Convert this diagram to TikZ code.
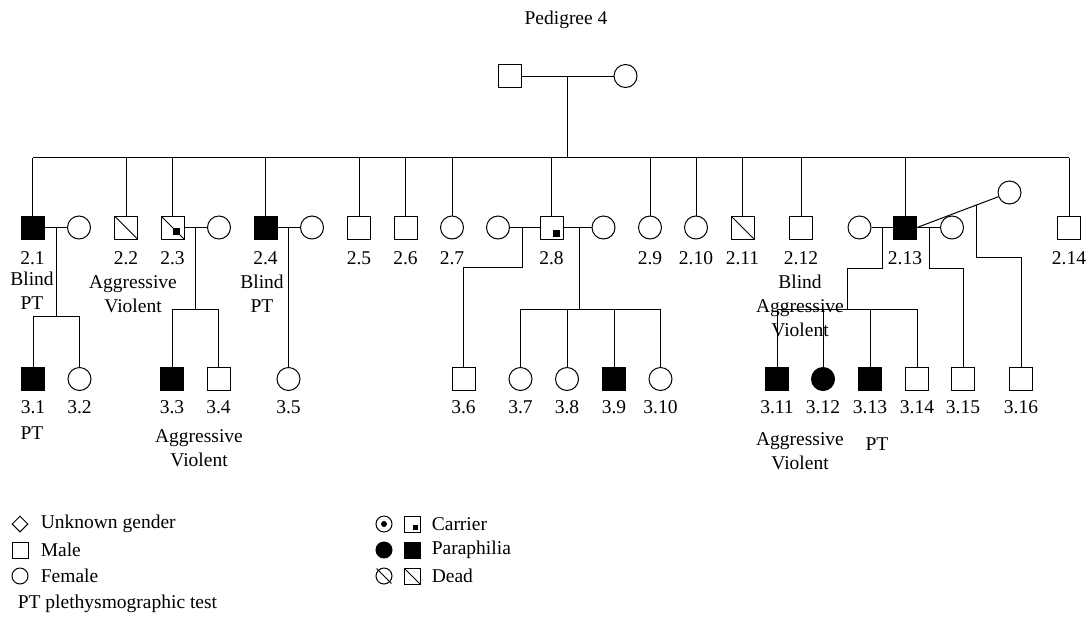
\documentclass[tikz,border=0pt]{standalone}
\usepackage{fontspec}
\setmainfont{Liberation Serif}
\usetikzlibrary{shapes.geometric}

\begin{document}
\begin{tikzpicture}[x=1pt,y=-1pt,line width=1pt,font=\fontsize{19.5}{24}\selectfont]
    \tikzstyle{male}=[rectangle,draw=black,fill=white,minimum size=23pt,inner sep=0pt]
    \tikzstyle{female}=[circle,draw=black,fill=white,minimum size=23pt,inner sep=0pt]
    \tikzstyle{malep}=[male,fill=black]
    \tikzstyle{femalep}=[female,fill=black]
    \tikzstyle{maled}=[male,path picture={\draw[black] (path picture bounding box.north west) -- (path picture bounding box.south east);}]
    \tikzstyle{malec}=[male,path picture={\fill[black] ([xshift=1pt,yshift=-9.5pt]path picture bounding box.center) rectangle ++(7pt,7pt);}]
    \tikzstyle{maledc}=[male,path picture={\draw[black] (path picture bounding box.north west) -- (path picture bounding box.south east);
        \fill[black] ([xshift=0pt,yshift=-7.5pt]path picture bounding box.center) rectangle ++(7pt,7pt);}]
    \tikzstyle{key}=[minimum size=16pt]
    \useasboundingbox (0,0) rectangle (1092,619);

    \node (title) at (566,20) {Pedigree 4};

    % generation 1
    \node[male] (V-1-1) at (509.5,76) {};
    \node[female] (V-1-2) at (625.5,76) {};
    \draw (V-1-1) -- (V-1-2);
    \coordinate (M-1) at (567,76);
    \coordinate (S-2) at (567,157.5);
    \draw (M-1) -- (S-2);

    % generation 2
    \foreach \num/\x/\kind in {1/32.5/malep, 2/126/maled, 3/172.5/maledc, 4/265.5/malep,
            5/359/male, 6/405.5/male, 7/452/female, 8/551.5/malec, 9/650/female,
            10/696/female, 11/742.5/maled, 12/801/male, 13/905/malep, 14/1069/male}
    {
        \node[\kind] (V-2-\num) at (\x,227.5) {};
        \node (N-2-\num) at (\x,258) {2.\num};
    }
    \foreach \name/\x in {1/79, 3/219, 4/312, 8a/498, 8b/603.5, 13a/859.5, 13b/952}
        \node[female] (W-2-\name) at (\x,227.5) {};
    \node[female] (W-2-13c) at (1009.5,192.5) {};

    \draw (V-2-1 |- S-2) -- (V-2-14 |- S-2);
    \foreach \num in {1,...,14}
        \draw (V-2-\num) -- (V-2-\num |- S-2);

    \node[align=center] (T-2-1) at (32,291) {Blind\\PT};
    \node[align=center] (T-2-2) at (133,294.5) {Aggressive\\Violent};
    \node[align=center] (T-2-4) at (262,294) {Blind\\PT};

    % generation 3
    \foreach \num/\x/\kind in {1/33/malep, 2/79.5/female, 3/172/malep, 4/218.5/male,
            5/288.5/female, 6/463.5/male, 7/520.5/female, 8/567/female, 9/614/malep,
            10/660.5/female, 11/777/malep, 12/823/femalep, 13/870/malep, 14/917/male,
            15/963/male, 16/1021/male}
    {
        \node[\kind] (V-3-\num) at (\x,379) {};
        \node (N-3-\num) at (\x,407) {3.\num};
    }

    % 2.1
    \draw (V-2-1) -- (W-2-1);
    \coordinate (M-2-1) at (56,227.5);
    \coordinate (S-3-1) at (56,316);
    \draw (M-2-1) -- (S-3-1);
    \draw (V-3-1 |- S-3-1) -- (V-3-2 |- S-3-1);
    \foreach \num in {1,2}
        \draw (V-3-\num) -- (V-3-\num |- S-3-1);

    % 2.3
    \draw (V-2-3) -- (W-2-3);
    \coordinate (M-2-3) at (195.7,227.5);
    \coordinate (S-3-3) at (195.7,309);
    \draw (M-2-3) -- (S-3-3);
    \draw (V-3-3 |- S-3-3) -- (V-3-4 |- S-3-3);
    \foreach \num in {3,4}
        \draw (V-3-\num) -- (V-3-\num |- S-3-3);

    % 2.4
    \draw (V-2-4) -- (W-2-4);
    \coordinate (M-2-4) at (288.5,227.5);
    \draw (M-2-4) -- (V-3-5);

    % 2.8
    \draw (W-2-8a) -- (V-2-8) -- (W-2-8b);
    \coordinate (M-2-8a) at (522,227.5);
    \coordinate (K-2-8a) at (522,267.7);
    \draw (M-2-8a) -- (K-2-8a) -| (V-3-6);
    \coordinate (M-2-8b) at (579,227.5);
    \coordinate (S-3-7) at (579,309);
    \draw (M-2-8b) -- (S-3-7);
    \draw (V-3-7 |- S-3-7) -- (V-3-10 |- S-3-7);
    \foreach \num in {7,...,10}
        \draw (V-3-\num) -- (V-3-\num |- S-3-7);

    % 2.13
    \draw (W-2-13a) -- (V-2-13) -- (W-2-13b);
    \draw (V-2-13.east) -- (W-2-13c);
    \coordinate (M-2-13a) at (882,227.5);
    \coordinate (K-2-13a) at (882,268);
    \coordinate (S-3-11) at (847,309);
    \draw (M-2-13a) -- (K-2-13a) -| (S-3-11);
    \draw (V-3-11 |- S-3-11) -- (V-3-14 |- S-3-11);
    \foreach \num in {11,...,14}
        \draw (V-3-\num) -- (V-3-\num |- S-3-11);
    \coordinate (M-2-13b) at (929,227.5);
    \coordinate (K-2-13b) at (929,268);
    \draw (M-2-13b) -- (K-2-13b) -| (V-3-15);
    \coordinate (M-2-13c) at (976,205.1);
    \coordinate (K-2-13c) at (976,257);
    \draw (M-2-13c) -- (K-2-13c) -| (V-3-16);

    \node[align=center] (T-2-12) at (800,305.5) {Blind\\Aggressive\\Violent};
    \node (T-3-1) at (32,433) {PT};
    \node[align=center] (T-3-3) at (199,448) {Aggressive\\Violent};
    \node[align=center] (T-3-11) at (800,451) {Aggressive\\Violent};
    \node (T-3-13) at (877,444) {PT};

    % legend
    \node[diamond,draw,key,inner sep=0pt] (K-u) at (20,524) {};
    \node[male,key] (K-m) at (20,550) {};
    \node[female,key] (K-f) at (20,576) {};
    \node[anchor=west] (K-ut) at (37,524) {Unknown gender};
    \node[anchor=west] (K-mt) at (37,550) {Male};
    \node[anchor=west] (K-ft) at (37,576) {Female};
    \node[anchor=west] (K-pt) at (14,604) {PT plethysmographic test};

    \node[female,key] (K-cf) at (384,524) {};
    \fill (K-cf) circle (3pt);
    \node[male,key] (K-cm) at (412,524) {};
    \fill ([xshift=1pt,yshift=-6pt]K-cm.center) rectangle ++(5pt,5pt);
    \node[femalep,key] (K-pf) at (384,550) {};
    \node[malep,key] (K-pm) at (412,550) {};
    \node[female,key] (K-df) at (384,576) {};
    \draw[shorten <=-2pt,shorten >=-2pt] (K-df.north west) -- (K-df.south east);
    \node[maled,key] (K-dm) at (412,576) {};
    \node[anchor=west] (K-ct) at (428,524) {Carrier};
    \node[anchor=west] (K-pt2) at (428,550) {Paraphilia};
    \node[anchor=west] (K-dt) at (428,576) {Dead};
\end{tikzpicture}
\end{document}
